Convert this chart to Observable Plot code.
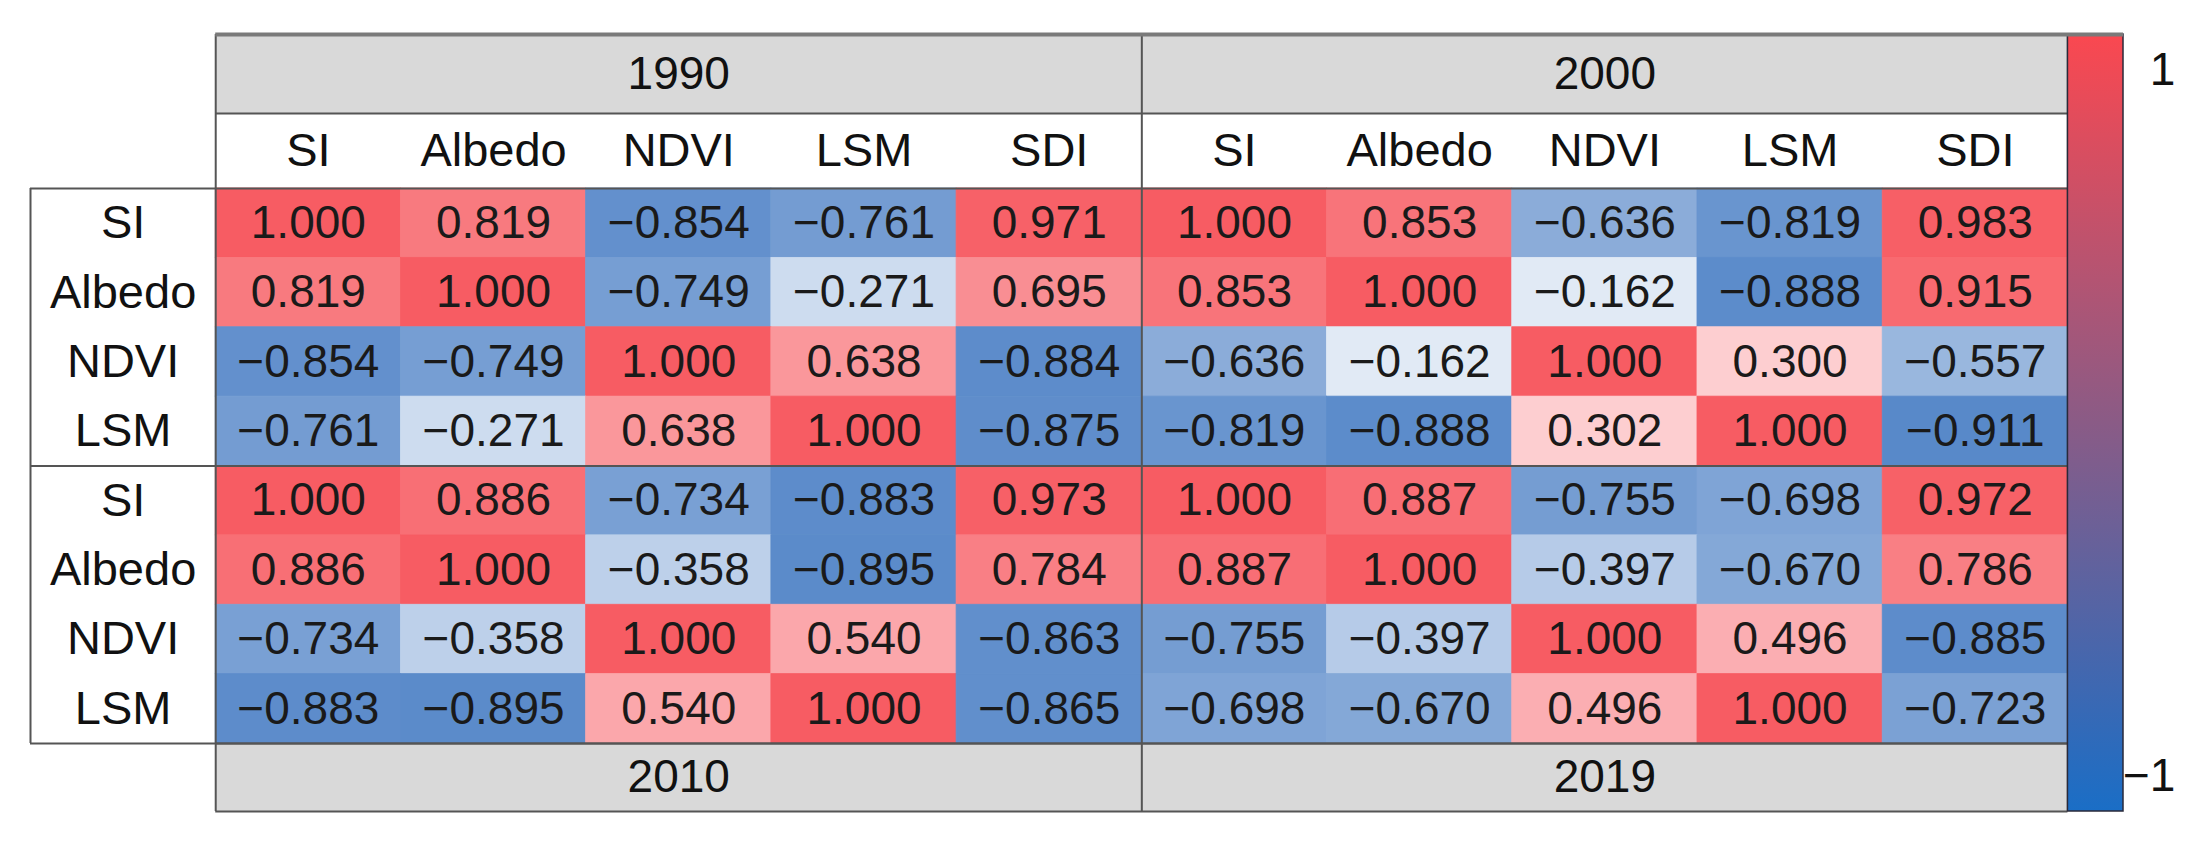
<!DOCTYPE html>
<html><head><meta charset="utf-8">
<script src="https://cdn.jsdelivr.net/npm/d3@7"></script>
<script src="https://cdn.jsdelivr.net/npm/@observablehq/plot@0.6"></script>
<style>html,body{margin:0;padding:0;background:#fff;overflow:hidden}</style>
</head><body><div id="chart"></div>
<script>
// ---- data ----
const years = ["1990", "2000", "2010", "2019"];
const rowVars = ["SI", "Albedo", "NDVI", "LSM"];
const colVars = ["SI", "Albedo", "NDVI", "LSM", "SDI"];
const corr1990 = [
  [1.000, 0.819, -0.854, -0.761, 0.971],
  [0.819, 1.000, -0.749, -0.271, 0.695],
  [-0.854, -0.749, 1.000, 0.638, -0.884],
  [-0.761, -0.271, 0.638, 1.000, -0.875]
];
const corr2000 = [
  [1.000, 0.853, -0.636, -0.819, 0.983],
  [0.853, 1.000, -0.162, -0.888, 0.915],
  [-0.636, -0.162, 1.000, 0.300, -0.557],
  [-0.819, -0.888, 0.302, 1.000, -0.911]
];
const corr2010 = [
  [1.000, 0.886, -0.734, -0.883, 0.973],
  [0.886, 1.000, -0.358, -0.895, 0.784],
  [-0.734, -0.358, 1.000, 0.540, -0.863],
  [-0.883, -0.895, 0.540, 1.000, -0.865]
];
const corr2019 = [
  [1.000, 0.887, -0.755, -0.698, 0.972],
  [0.887, 1.000, -0.397, -0.670, 0.786],
  [-0.755, -0.397, 1.000, 0.496, -0.885],
  [-0.698, -0.670, 0.496, 1.000, -0.723]
];
const colorbarTicks = [1, -1];

// ---- layout (in row/column units of the scales) ----
const matrices = [corr1990, corr2000, corr2010, corr2019];
const nC = colVars.length, nR = rowVars.length;
const HDR_TOP = -2.22, HDR_BOT = -1.08, FTR_BOT = 2 * nR + 0.98;
const CB_W = 0.3;
const fmt = d3.format(".3f");
const FONT = "'Liberation Sans', Arial, Helvetica, sans-serif";

const cells = [];
matrices.forEach((m, k) => {
  const panel = k % 2, block = Math.floor(k / 2);
  m.forEach((row, i) => row.forEach((v, j) => cells.push({
    year: years[k], row: rowVars[i], col: colVars[j], value: v,
    c: panel * nC + j, r: block * nR + i
  })));
});
const panelsTop = years.slice(0, 2).map((y, p) => ({year: y, p}));
const panelsBottom = years.slice(2, 4).map((y, p) => ({year: y, p}));
const colLabels = [0, 1].flatMap(p => colVars.map((v, j) => ({label: v, c: p * nC + j})));
const rowLabels = [0, 1].flatMap(b => rowVars.map((v, i) => ({label: v, r: b * nR + i})));
const cbPos = v => HDR_TOP + (1.1 - v) / 2.2 * (FTR_BOT - HDR_TOP);

const chart = Plot.plot({
  width: 2197,
  height: 847,
  margin: 0,
  style: {fontFamily: FONT, background: "white"},
  x: {type: "linear", domain: [-1, 2 * nC + CB_W], range: [30, 2123], axis: null},
  y: {type: "linear", domain: [HDR_TOP, FTR_BOT], range: [34, 811], axis: null},
  color: {type: "linear", domain: [-1, 0, 1], range: ["#487dc4", "#ffffff", "#f75c63"], interpolate: "rgb"},
  marks: [
    // strip backgrounds
    Plot.rect(panelsTop, {x1: d => d.p * nC, x2: d => (d.p + 1) * nC, y1: HDR_TOP, y2: HDR_BOT, fill: "#d9d9d9"}),
    Plot.rect(panelsBottom, {x1: d => d.p * nC, x2: d => (d.p + 1) * nC, y1: 2 * nR, y2: FTR_BOT, fill: "#d9d9d9"}),
    // heatmap cells
    Plot.rect(cells, {x1: "c", x2: d => d.c + 1, y1: "r", y2: d => d.r + 1, fill: "value", stroke: "value", strokeWidth: 0.8}),
    Plot.text(cells, {x: d => d.c + 0.5, y: d => d.r + 0.5, text: d => fmt(d.value), fontSize: 46, fill: "#1a1a1a"}),
    // labels
    Plot.text(panelsTop, {x: d => d.p * nC + nC / 2, y: (HDR_TOP + HDR_BOT) / 2, text: "year", fontSize: 46, fill: "#111"}),
    Plot.text(panelsBottom, {x: d => d.p * nC + nC / 2, y: (2 * nR + FTR_BOT) / 2, text: "year", fontSize: 46, fill: "#111"}),
    Plot.text(colLabels, {x: d => d.c + 0.5, y: HDR_BOT / 2, text: "label", fontSize: 47, fill: "#111"}),
    Plot.text(rowLabels, {x: -0.5, y: d => d.r + 0.5, text: "label", fontSize: 47, fill: "#111"}),
    // table lines
    Plot.ruleY([HDR_BOT, 2 * nR, FTR_BOT], {x1: 0, x2: 2 * nC, stroke: "#555", strokeWidth: 2}),
    Plot.ruleY([0, nR, 2 * nR], {x1: -1, x2: 2 * nC, stroke: "#555", strokeWidth: 2}),
    Plot.ruleX([0, nC, 2 * nC], {y1: HDR_TOP, y2: FTR_BOT, stroke: "#555", strokeWidth: 2}),
    Plot.ruleX([-1], {y1: 0, y2: 2 * nR, stroke: "#555", strokeWidth: 2}),
    // colorbar
    Plot.rect([0], {x1: 2 * nC, x2: 2 * nC + CB_W, y1: HDR_TOP, y2: FTR_BOT, fill: "url(#cbgrad)", stroke: "#2a2a3a", strokeWidth: 1.5}),
    Plot.ruleY([HDR_TOP], {x1: 0, x2: 2 * nC + CB_W, stroke: "#7a7a7a", strokeWidth: 4}),
    Plot.text(colorbarTicks, {x: 2 * nC + 0.58, y: d => cbPos(d), text: d => d3.format("")(d), textAnchor: "end", fontSize: 46, fill: "#111"})
  ]
});

// gradient definition for the colorbar
const ns = "http://www.w3.org/2000/svg";
const defs = document.createElementNS(ns, "defs");
const grad = document.createElementNS(ns, "linearGradient");
grad.setAttribute("id", "cbgrad");
grad.setAttribute("x1", "0"); grad.setAttribute("x2", "0");
grad.setAttribute("y1", "0"); grad.setAttribute("y2", "1");
[["0%", "#fa4850"], ["50%", "#8a5b86"], ["100%", "#1a6ec6"]].forEach(([o, c]) => {
  const s = document.createElementNS(ns, "stop");
  s.setAttribute("offset", o); s.setAttribute("stop-color", c);
  grad.appendChild(s);
});
defs.appendChild(grad);
chart.insertBefore(defs, chart.firstChild);
document.getElementById("chart").appendChild(chart);
</script>
</body></html>
